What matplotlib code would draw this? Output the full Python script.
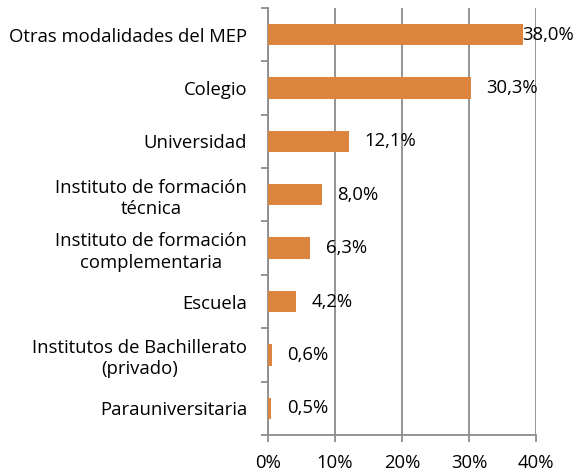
import numpy as np
import matplotlib.pyplot as plt

categories = [
    "Otras modalidades del MEP",
    "Colegio",
    "Universidad",
    "Instituto de formación\ntécnica",
    "Instituto de formación\ncomplementaria",
    "Escuela",
    "Institutos de Bachillerato\n(privado)",
    "Parauniversitaria",
]
values = [38.0, 30.3, 12.1, 8.0, 6.3, 4.2, 0.6, 0.5]
xticks = [0, 10, 20, 30, 40]

plt.rcParams["font.family"] = ["Open Sans", "DejaVu Sans"]
fs = 13.3

fig = plt.figure(figsize=(5.77, 4.73), dpi=100)
ax = fig.add_axes([0.4645, 0.0803, 0.4645, 0.903])

y = np.arange(len(categories))
ax.barh(y, values, height=0.4, color="#DB843D", zorder=3)
ax.set_ylim(len(categories) - 0.5, -0.5)
ax.set_xlim(0, 40)

grid_c = "#8C8C8C"
ax.set_xticks(xticks)
ax.set_xticklabels([f"{t}%" for t in xticks], fontsize=fs)
ax.xaxis.grid(True, color=grid_c, lw=1.3, zorder=0)
ax.tick_params(axis="x", length=5, width=1.3, color=grid_c, pad=9)

ax.set_yticks(y)
ax.set_yticklabels(categories, fontsize=fs, multialignment="center", linespacing=1.25)
ax.set_yticks(np.arange(-0.5, len(categories), 1.0), minor=True)
ax.tick_params(axis="y", which="major", length=0, pad=15)
ax.tick_params(axis="y", which="minor", length=5, width=1.3, color=grid_c)

for side in ["top", "right"]:
    ax.spines[side].set_visible(False)
ax.spines["left"].set_color(grid_c)
ax.spines["left"].set_linewidth(1.3)
ax.spines["bottom"].set_color(grid_c)
ax.spines["bottom"].set_linewidth(1.3)

for yi, v in zip(y, values):
    off = 0 if v > 35 else 11
    ax.annotate(f"{v:.1f}%".replace(".", ","), (v, yi), xytext=(off, 0),
                textcoords="offset points", va="center", ha="left", fontsize=fs,
                zorder=4, annotation_clip=False)

fig.savefig("out.png", dpi=100)
